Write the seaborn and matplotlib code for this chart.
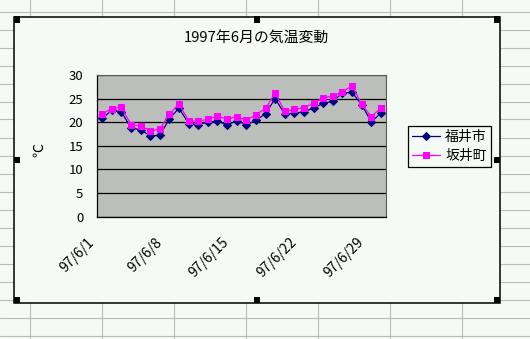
import matplotlib
matplotlib.use("Agg")
import matplotlib.pyplot as plt
import matplotlib.patches as mpatches
import matplotlib.lines as mlines
import matplotlib.transforms as mtransforms
import seaborn as sns
import pandas as pd

# ---- data ----
days = list(range(1, 31))  # June 1997
fukui = [20.8, 22.5, 22.2, 18.8, 18.4, 17.1, 17.2, 20.7, 23.0, 19.7,
         19.5, 20.0, 20.2, 19.4, 20.3, 19.4, 20.4, 21.8, 25.0, 21.7,
         21.9, 22.2, 23.0, 24.0, 24.4, 26.2, 26.3, 23.7, 20.1, 21.9]
sakai = [21.8, 22.8, 23.2, 19.5, 19.2, 18.2, 18.5, 21.7, 23.9, 20.3,
         20.2, 20.6, 21.3, 20.6, 21.2, 20.4, 21.6, 22.9, 26.2, 22.3,
         22.7, 23.1, 24.0, 25.2, 25.5, 26.4, 27.7, 23.8, 21.2, 23.0]
series_names = ["福井市", "坂井町"]
tick_days = [1, 8, 15, 22, 29]
tick_labels = ["97/6/1", "97/6/8", "97/6/15", "97/6/22", "97/6/29"]
ytick_vals = [0, 5, 10, 15, 20, 25, 30]
title = "1997年6月の気温変動"
ylabel = "℃"

df = pd.DataFrame({"day": days, series_names[0]: fukui, series_names[1]: sakai})

sns.set_style("white")
plt.rcParams["font.family"] = ["Noto Sans CJK JP", "DejaVu Sans"]
for key in ["text.color", "axes.labelcolor", "xtick.color", "ytick.color"]:
    plt.rcParams[key] = "black"

W, H = 530, 339
fig = plt.figure(figsize=(W / 100, H / 100), dpi=100)
bg = "#f5faf6"
fig.patch.set_facecolor(bg)

def fx(px):
    return px / W

def fy(py):
    return 1 - py / H

# spreadsheet grid lines
gridc = "#b9bcb9"
for x in [30, 102, 174, 246, 318, 390, 462]:
    fig.add_artist(mlines.Line2D([fx(x), fx(x)], [0, 1], transform=fig.transFigure,
                                 color=gridc, lw=0.8, zorder=-3))
for k in range(19):
    y = 11.5 + 18 * k
    fig.add_artist(mlines.Line2D([0, 1], [fy(y), fy(y)], transform=fig.transFigure,
                                 color=gridc, lw=0.8, zorder=-3))

# chart area
cl, ct, cr, cb = 13.5, 16.5, 500, 303
fig.add_artist(mpatches.Rectangle((fx(cl), fy(cb)), fx(cr) - fx(cl), fy(ct) - fy(cb),
                                  transform=fig.transFigure, facecolor=bg,
                                  edgecolor="black", lw=1.1, zorder=-2))
# selection handles
hs = 6
mx = (cl + cr) / 2
my = (ct + cb) / 2
for (hx, hy) in [(cl, ct), (mx - hs / 2, ct), (cr - hs, ct),
                 (cl, my - hs / 2), (cr - hs, my - hs / 2),
                 (cl, cb - hs), (mx - hs / 2, cb - hs), (cr - hs, cb - hs)]:
    fig.add_artist(mpatches.Rectangle((fx(hx), fy(hy + hs)), hs / W, hs / H,
                                      transform=fig.transFigure, facecolor="black",
                                      edgecolor="none", zorder=10))

# plot area
pl, pt, pr, pb = 97.3, 75.0, 385.7, 216.5
ax = fig.add_axes([fx(pl), fy(pb), fx(pr) - fx(pl), fy(pt) - fy(pb)])
ax.set_facecolor("#bcbebc")

sns.lineplot(data=df, x="day", y=series_names[0], ax=ax, color="#000080",
             marker="D", markersize=4.2, markeredgecolor="#000080", lw=0.9,
             label=series_names[0], zorder=3)
sns.lineplot(data=df, x="day", y=series_names[1], ax=ax, color="#ff00ff",
             marker="s", markersize=4.6, markeredgecolor="#ff00ff", lw=0.9,
             label=series_names[1], zorder=4)
handles, labels = ax.get_legend_handles_labels()
if ax.get_legend() is not None:
    ax.get_legend().remove()

ax.set_xlim(0.5, 30.5)
ax.set_ylim(0, 30)
ax.set_yticks(ytick_vals)
ax.set_yticklabels([str(v) for v in ytick_vals])
ax.set_xticks([d - 0.5 for d in tick_days])
ax.set_xticklabels(tick_labels)
ax.grid(axis="y", color="black", lw=0.9)
ax.grid(axis="x", visible=False)
ax.set_axisbelow(True)
ax.set_xlabel("")
ax.set_ylabel(ylabel, fontsize=10, rotation=90)
ax.yaxis.label.set_va("center")
ax.yaxis.label.set_ha("center")
ax.yaxis.set_label_coords((39 - pl) / (pr - pl), 0.47)

ax.tick_params(axis="y", length=0, pad=10, labelsize=9.5, labelcolor="black")
ax.tick_params(axis="x", direction="in", length=3, width=0.9, color="black",
               pad=17, labelsize=10, labelcolor="black")
offset = mtransforms.ScaledTranslation(-5 / 100, 0, fig.dpi_scale_trans)
for lab in ax.get_xticklabels():
    lab.set_rotation(45)
    lab.set_ha("right")
    lab.set_va("center")
    lab.set_rotation_mode("anchor")
    lab.set_transform(lab.get_transform() + offset)

for side in ["left", "bottom"]:
    ax.spines[side].set_color("black")
    ax.spines[side].set_linewidth(0.9)
for side in ["top", "right"]:
    ax.spines[side].set_color("#5a5a5a")
    ax.spines[side].set_linewidth(0.8)

fig.text(fx(256.5), fy(39), title, ha="center", va="center", fontsize=10.7,
         color="black")

leg = fig.legend(handles, labels, loc="center",
                 bbox_to_anchor=(fx(449.3), fy(146.3)),
                 bbox_transform=fig.transFigure,
                 frameon=True, fancybox=False, shadow=False,
                 fontsize=10, handlelength=2.0, handletextpad=0.4,
                 labelspacing=0.3, borderpad=0.3, borderaxespad=0)
leg.get_frame().set_edgecolor("black")
leg.get_frame().set_linewidth(0.9)
leg.get_frame().set_facecolor(bg)
leg.get_frame().set_alpha(1)
for t in leg.get_texts():
    t.set_color("black")

fig.savefig("out.png", dpi=100, facecolor=fig.get_facecolor())
